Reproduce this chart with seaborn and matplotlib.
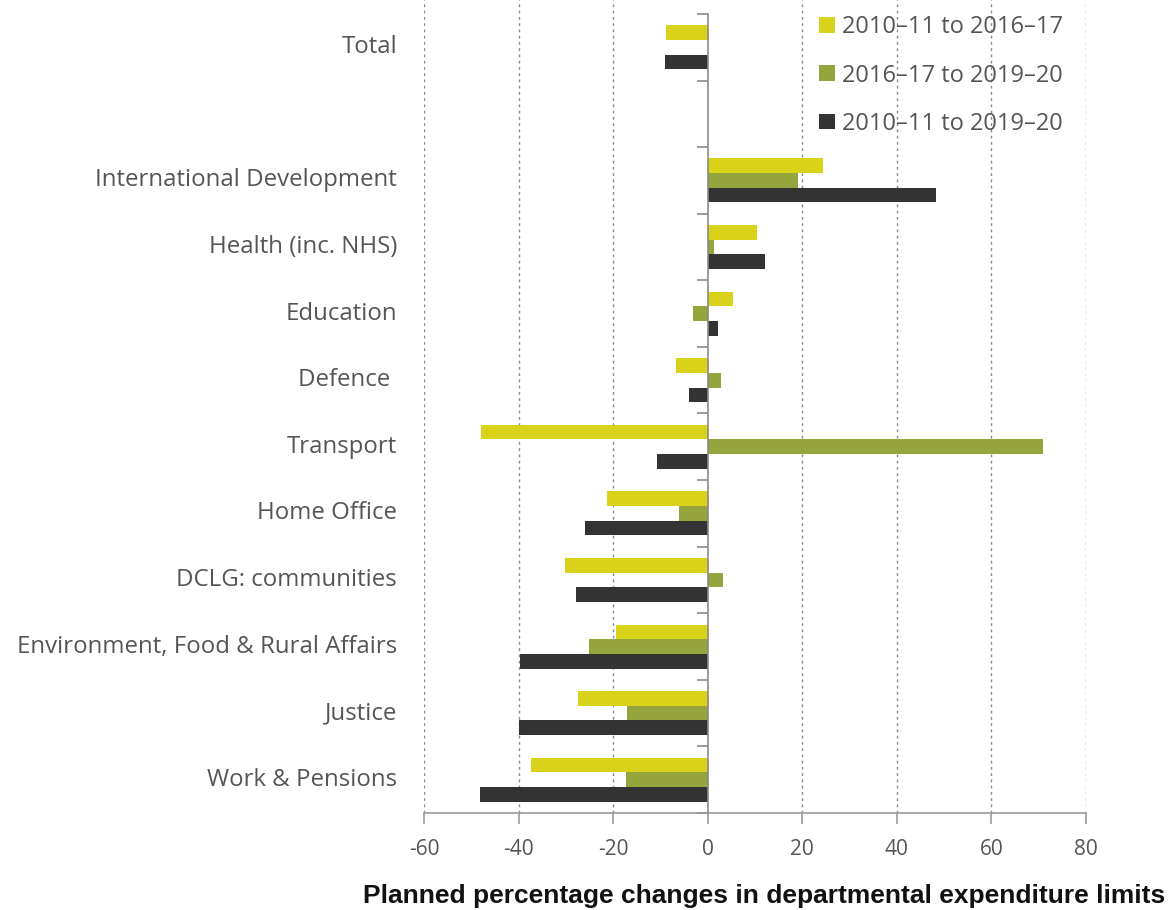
import numpy as np
import pandas as pd
import matplotlib
matplotlib.use("Agg")
import matplotlib.pyplot as plt
import matplotlib.transforms as mtransforms
import seaborn as sns

# Departments, top to bottom (blank slot separates the total from the rest)
departments = [
    "Total",
    "",
    "International Development",
    "Health (inc. NHS)",
    "Education",
    "Defence ",
    "Transport",
    "Home Office",
    "DCLG: communities",
    "Environment, Food & Rural Affairs",
    "Justice",
    "Work & Pensions",
]

series_names = ["2010–11 to 2016–17", "2016–17 to 2019–20", "2010–11 to 2019–20"]

# Planned % change for each period (NaN = not shown)
change_2010_2016 = [-8.9, np.nan, 24.4, 10.4, 5.3, -6.7, -48.0, -21.2, -30.1, -19.4, -27.5, -37.4]
change_2016_2019 = [np.nan, np.nan, 19.1, 1.3, -3.2, 2.8, 71.0, -6.1, 3.2, -25.1, -17.0, -17.2]
change_2010_2019 = [-9.1, np.nan, 48.3, 12.1, 2.1, -3.9, -10.8, -25.9, -27.9, -39.6, -39.9, -48.2]

x_ticks = [-60, -40, -20, 0, 20, 40, 60, 80]

colors = ["#d9d21a", "#95a43c", "#333333"]

rows = []
for name, vals in zip(series_names, [change_2010_2016, change_2016_2019, change_2010_2019]):
    for dept, v in zip(departments, vals):
        rows.append({"Department": dept, "Period": name, "Change": v})
df = pd.DataFrame(rows)

sns.set_style("white")
plt.rcParams["font.family"] = ["Open Sans", "DejaVu Sans"]

fig = plt.figure(figsize=(11.70, 9.10), dpi=100)
ax = fig.add_axes([424 / 1170, 1 - 813 / 910, 662 / 1170, 813 / 910])

sns.barplot(
    data=df, y="Department", x="Change", hue="Period",
    order=departments, hue_order=series_names,
    palette=colors, orient="h", width=0.66,
    saturation=1, errorbar=None, ax=ax, linewidth=0,
)

n = len(departments)
ax.set_xlim(x_ticks[0], x_ticks[-1])
ax.set_ylim(n - 0.5, -0.71)

# dotted vertical gridlines (zero carries the solid axis line instead)
for t in x_ticks:
    if t != 0:
        ax.axvline(t, color="#8a8a8a", lw=1.0, ls=(0, (2, 2.5)), zorder=0)

# zero axis with ticks at category boundaries
for s in ["top", "right"]:
    ax.spines[s].set_visible(False)
ax.spines["left"].set_position(("data", 0))
ax.spines["left"].set_bounds(n - 0.5, -0.5)
ax.spines["left"].set_color("#8a8a8a")
ax.spines["left"].set_linewidth(1.2)
ax.spines["left"].set_zorder(1)
boundaries = np.arange(-0.5, n, 1.0)
ax.set_yticks(boundaries)
ax.set_yticklabels([])
ax.tick_params(axis="y", direction="out", length=8, color="#8a8a8a", width=1.2, left=True)

ax.spines["bottom"].set_color("#999999")
ax.spines["bottom"].set_linewidth(1.2)
ax.spines["bottom"].set_bounds(x_ticks[0], x_ticks[-1])
ax.set_xticks(x_ticks)
ax.set_xticklabels([str(t) for t in x_ticks])
ax.tick_params(axis="x", direction="out", length=8, color="#999999", width=1.2,
               bottom=True, labelsize=15, labelcolor="#555555", pad=11)
ax.set_xlabel("")
ax.set_ylabel("")

# department labels to the left of the plotting area
trans = mtransforms.blended_transform_factory(ax.transAxes, ax.transData)
for i, dept in enumerate(departments):
    if dept:
        ax.text(-27 / 662, i, dept, transform=trans, ha="right", va="center",
                fontsize=17.3, color="#555555")

leg = ax.legend(
    loc="upper left", bbox_to_anchor=(798 / 1170, 1 + 6 / 910),
    bbox_transform=fig.transFigure, frameon=False, fontsize=17,
    handlelength=0.68, handleheight=0.65, handletextpad=0.3, labelspacing=1.03,
)
for t in leg.get_texts():
    t.set_color("#555555")

fig.text(1165 / 1170, 1 - 903 / 910, "Planned percentage changes in departmental expenditure limits",
         ha="right", va="baseline", fontsize=19, fontweight="bold",
         family=["Liberation Sans", "DejaVu Sans"], color="#111111")

fig.savefig("out.png", dpi=100, facecolor="white")
